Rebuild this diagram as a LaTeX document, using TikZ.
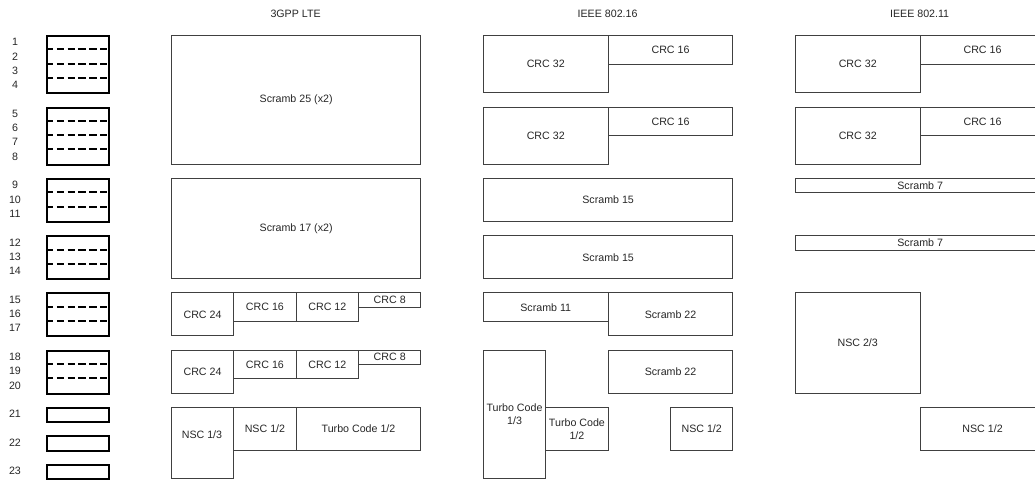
\documentclass[tikz,border=0pt]{standalone}
\usepackage{fontspec}
\setmainfont{Liberation Sans}
\definecolor{boxline}{gray}{0.25}
\definecolor{txt}{gray}{0.15}
\tikzset{
  lbl/.style={text=txt, font=\fontsize{8}{9.6}\selectfont, inner sep=0pt, align=center},
  box/.style={lbl, draw=boxline, line width=0.8pt, anchor=north west},
  gridbox/.style={draw=black, line width=1.5pt, inner sep=0pt, anchor=north west, minimum width=62.4*0.75pt},
  sepline/.style={black, line width=1.5pt, dash pattern=on 5.6pt off 2.5pt},
}
\newcommand\bx[6]{\node[box, minimum width=#4*0.75pt, minimum height=#5*0.75pt] (#1) at (#2,#3) {#6};}
\begin{document}
\begin{tikzpicture}[x=0.75pt, y=-0.75pt]
\useasboundingbox (0,0) rectangle (1035,479);
\clip (0,0) rectangle (1035,479);
% headers
\node[lbl] (hlte) at (295.6,14.3) {3GPP LTE};
\node[lbl] (h16) at (607.6,14.3) {IEEE 802.16};
\node[lbl] (h11) at (919.6,14.3) {IEEE 802.11};
% left grid
\node[gridbox, minimum height=57.2*0.75pt] (g1) at (46,35) {};
\node[gridbox, minimum height=57.2*0.75pt] (g2) at (46,106.5) {};
\node[gridbox, minimum height=42.9*0.75pt] (g3) at (46,178) {};
\node[gridbox, minimum height=42.9*0.75pt] (g4) at (46,235.2) {};
\node[gridbox, minimum height=42.9*0.75pt] (g5) at (46,292.4) {};
\node[gridbox, minimum height=42.9*0.75pt] (g6) at (46,349.6) {};
\node[gridbox, minimum height=14.3*0.75pt] (g7) at (46,406.8) {};
\node[gridbox, minimum height=14.3*0.75pt] (g8) at (46,435.4) {};
\node[gridbox, minimum height=14.3*0.75pt] (g9) at (46,464) {};
\foreach \yy in {49.3,63.6,77.9,120.8,135.1,149.4,192.3,206.6,249.5,263.8,306.7,321.0,363.9,378.2}
  \draw[sepline] (46,\yy) -- (108.4,\yy);
% row numbers
\foreach \n/\yy in {1/42.15,2/56.45,3/70.75,4/85.05,5/113.65,6/127.95,7/142.25,8/156.55,
  9/185.15,10/199.45,11/213.75,12/242.35,13/256.65,14/270.95,15/299.55,16/313.85,17/328.15,
  18/356.75,19/371.05,20/385.35,21/413.95,22/442.55,23/471.15}
  \node[lbl] (r\n) at (15,\yy) {\n};
% 3GPP LTE
\bx{s25}{170.8}{35}{249.6}{128.7}{Scramb 25 (x2)}
\bx{s17}{170.8}{178}{249.6}{100.1}{Scramb 17 (x2)}
\bx{crc24a}{170.8}{292.4}{62.4}{42.9}{CRC 24}
\bx{crc16a}{233.2}{292.4}{62.4}{28.6}{CRC 16}
\bx{crc12a}{295.6}{292.4}{62.4}{28.6}{CRC 12}
\bx{crc8a}{358}{292.4}{62.4}{14.3}{CRC 8}
\bx{crc24b}{170.8}{349.6}{62.4}{42.9}{CRC 24}
\bx{crc16b}{233.2}{349.6}{62.4}{28.6}{CRC 16}
\bx{crc12b}{295.6}{349.6}{62.4}{28.6}{CRC 12}
\bx{crc8b}{358}{349.6}{62.4}{14.3}{CRC 8}
\bx{nsc13}{170.8}{406.8}{62.4}{71.5}{}
\node[lbl] (nsc13t) at (202,435) {NSC 1/3};
\bx{nsc12a}{233.2}{406.8}{62.4}{42.9}{NSC 1/2}
\bx{tc12a}{295.6}{406.8}{124.8}{42.9}{Turbo Code 1/2}
% IEEE 802.16
\bx{crc32a}{482.8}{35}{124.8}{57.2}{CRC 32}
\bx{crc16c}{607.6}{35}{124.8}{28.6}{CRC 16}
\bx{crc32b}{482.8}{106.5}{124.8}{57.2}{CRC 32}
\bx{crc16d}{607.6}{106.5}{124.8}{28.6}{CRC 16}
\bx{s15a}{482.8}{178}{249.6}{42.9}{Scramb 15}
\bx{s15b}{482.8}{235.2}{249.6}{42.9}{Scramb 15}
\bx{s11}{482.8}{292.4}{124.8}{28.6}{Scramb 11}
\bx{s22a}{607.6}{292.4}{124.8}{42.9}{Scramb 22}
\bx{tc13}{482.8}{349.6}{62.4}{128.7}{Turbo Code\\1/3}
\bx{s22b}{607.6}{349.6}{124.8}{42.9}{Scramb 22}
\bx{tc12b}{545.2}{406.8}{62.4}{42.9}{Turbo Code\\1/2}
\bx{nsc12b}{670}{406.8}{62.4}{42.9}{NSC 1/2}
% IEEE 802.11
\bx{crc32c}{794.8}{35}{124.8}{57.2}{CRC 32}
\bx{crc16e}{919.6}{35}{124.8}{28.6}{CRC 16}
\bx{crc32d}{794.8}{106.5}{124.8}{57.2}{CRC 32}
\bx{crc16f}{919.6}{106.5}{124.8}{28.6}{CRC 16}
\bx{s7a}{794.8}{178}{249.6}{14.3}{Scramb 7}
\bx{s7b}{794.8}{235.2}{249.6}{14.3}{Scramb 7}
\bx{nsc23}{794.8}{292.4}{124.8}{100.1}{NSC 2/3}
\bx{nsc12c}{919.6}{406.8}{124.8}{42.9}{NSC 1/2}
\end{tikzpicture}
\end{document}
